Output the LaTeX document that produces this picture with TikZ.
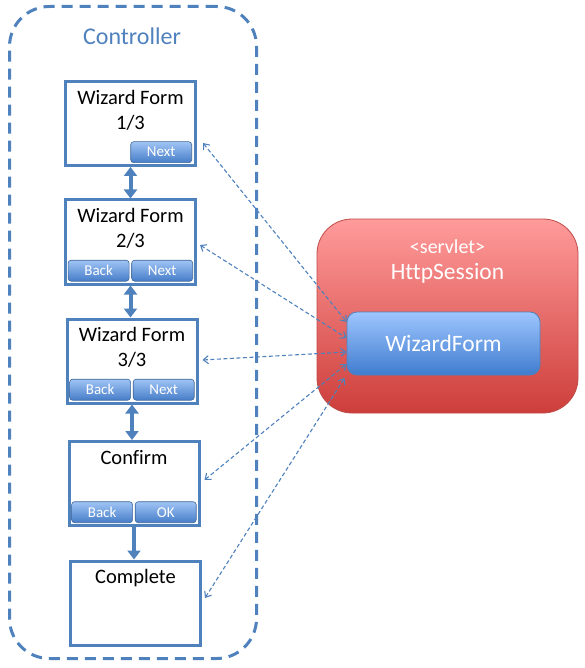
\documentclass[tikz,border=0pt]{standalone}
\usepackage{fontspec}
\setmainfont{Carlito}[Ligatures=NoCommon]
\usetikzlibrary{calc,arrows.meta,positioning}

\definecolor{ctlblue}{RGB}{79,129,189}
\definecolor{btntop}{RGB}{160,196,245}
\definecolor{btnbot}{RGB}{70,125,200}
\definecolor{sesstop}{RGB}{255,155,155}
\definecolor{sessbot}{RGB}{205,62,58}
\definecolor{sessline}{RGB}{190,75,72}
\definecolor{wftop}{RGB}{158,198,255}
\definecolor{wfbot}{RGB}{64,124,206}

\tikzset{
  formbox/.style={draw=ctlblue, line width=3pt, minimum width=130pt, minimum height=84pt, inner sep=0pt},
  formtext/.style={anchor=north, align=center, inner sep=0pt, font=\fontsize{20.5}{25}\selectfont},
  btn/.style={draw=ctlblue!80!black, line width=0.6pt, rounded corners=3pt, top color=btntop, bottom color=btnbot,
    text=white, minimum width=61pt, minimum height=21pt, inner sep=0pt, font=\fontsize{15}{16}\selectfont},
  flow/.style={draw=ctlblue, line width=4pt, -{Triangle[width=13pt,length=9pt]}},
  flowboth/.style={flow, {Triangle[width=13pt,length=9pt]}-{Triangle[width=13pt,length=9pt]}},
  link/.style={draw=ctlblue, line width=1.1pt, dash pattern=on 4pt off 2.5pt,
    {Straight Barb[width=8pt,length=5pt]}-{Straight Barb[width=8pt,length=5pt]}},
}

\begin{document}
\begin{tikzpicture}[x=1pt, y=-1pt]

\useasboundingbox (0,0) rectangle (584,668);

% controller
\node[draw=ctlblue, line width=3pt, dash pattern=on 11pt off 7pt, rounded corners=40pt,
  minimum width=247pt, minimum height=652pt] (ctl) at (133,332.5) {};
\node[text=ctlblue, font=\fontsize{24}{28}\selectfont] (ctltitle) at (132,36) {Controller};

% wizard forms
\node[formbox] (f1) at (130.5,123.5) {};
\node[formbox] (f2) at (130.5,242) {};
\node[formbox] (f3) at (132,361) {};
\node[formbox] (f4) at (134,483.5) {};
\node[formbox] (f5) at (135.5,603) {};

\node[formtext] (t1) at ([yshift=-10pt]f1.north) {Wizard Form\\1/3};
\node[formtext] (t2) at ([yshift=-10pt]f2.north) {Wizard Form\\2/3};
\node[formtext] (t3) at ([yshift=-10pt]f3.north) {Wizard Form\\3/3};
\node[formtext] (t4) at ([yshift=-10pt]f4.north) {Confirm};
\node[formtext] (t5) at ([yshift=-10pt]f5.north) {Complete};

% buttons
\node[btn, anchor=south east] (n1) at ([xshift=-5pt,yshift=4pt]f1.south east) {Next};
\node[btn, anchor=south east] (n2) at ([xshift=-4pt,yshift=4pt]f2.south east) {Next};
\node[btn, anchor=east] (b2) at ([xshift=-2pt]n2.west) {Back};
\node[btn, anchor=south east] (n3) at ([xshift=-4pt,yshift=4pt]f3.south east) {Next};
\node[btn, anchor=east] (b3) at ([xshift=-2pt]n3.west) {Back};
\node[btn, anchor=south east] (ok4) at ([xshift=-4pt,yshift=4pt]f4.south east) {OK};
\node[btn, anchor=east] (b4) at ([xshift=-2pt]ok4.west) {Back};

% steps
\draw[flowboth] (f1.south) -- (f2.north);
\draw[flowboth] (f2.south) -- (f2.south |- f3.north);
\draw[flowboth] (f3.south) -- (f3.south |- f4.north);
\draw[flow] (f4.south) -- (f4.south |- f5.north);

% session
\node[draw=sessline, line width=0.8pt, rounded corners=35pt, top color=sesstop, bottom color=sessbot,
  minimum width=261pt, minimum height=194pt] (hs) at (447.5,316) {};
\node[text=white, font=\fontsize{20}{24}\selectfont] (sv) at (447.5,247) {<servlet>};
\node[text=white, font=\fontsize{23.5}{28}\selectfont] (hstitle) at (447.5,273) {HttpSession};
\node[draw=ctlblue, line width=0.8pt, rounded corners=10pt, top color=wftop, bottom color=wfbot,
  text=white, font=\fontsize{23.5}{28}\selectfont, minimum width=193pt, minimum height=63pt] (wf) at (443.5,343.5) {WizardForm};

% links to the session object
\draw[link] ([xshift=6pt,yshift=-19.5pt]f1.east) -- ([yshift=21.5pt]wf.west);
\draw[link] ([xshift=3pt,yshift=-3pt]f2.east) -- ([yshift=5.5pt]wf.west);
\draw[link] ([xshift=4pt,yshift=1pt]f3.east) -- ([yshift=-8.5pt]wf.west);
\draw[link] ([xshift=4pt,yshift=3.5pt]f4.east) -- ([yshift=-20.5pt]wf.west);
\draw[link] ([xshift=3pt,yshift=5pt]f5.east) -- ([xshift=-2pt,yshift=-34.5pt]wf.west);

\end{tikzpicture}
\end{document}
